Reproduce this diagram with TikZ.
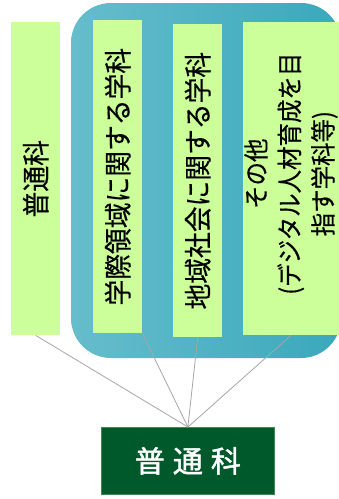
\documentclass[tikz,border=0pt]{standalone}
\usepackage{fontspec}
\newfontfamily\jp[FakeBold=0.4]{Noto Sans CJK JP}
\newfontfamily\jpb[FakeBold=1.5]{Noto Sans CJK JP}
\definecolor{lgreen}{HTML}{CCFF99}
\definecolor{dgreen}{HTML}{00592A}
\definecolor{dgedge}{HTML}{3C8A50}
\definecolor{blueL}{HTML}{66BDCC}
\definecolor{blueM}{HTML}{4BB8CA}
\definecolor{blueR}{HTML}{3AA8BC}
\definecolor{conncol}{HTML}{A6A6A6}
\begin{document}
\begin{tikzpicture}[x=1pt,y=-1pt,
  greenbox/.style={draw=none, fill=lgreen, inner sep=0pt, anchor=north west},
  vtext/.style={rotate=90, xscale=0.92, inner sep=0pt, text=black, font=\jp\fontsize{28}{30}\selectfont},
  vtextsmall/.style={rotate=90, xscale=0.92, inner sep=0pt, text=black, align=center, font=\jp\fontsize{25.5}{33.5}\selectfont},
  darkbox/.style={draw=dgedge, line width=0.8pt, fill=dgreen, inner sep=0pt, anchor=north west, text=white},
  conn/.style={draw=conncol, line width=0.8pt}]
\useasboundingbox (0,0) rectangle (339,499);
\clip (0,0) rectangle (339,499);
% blue background panel
\shade[left color=blueL, middle color=blueM, right color=blueR, rounded corners=40pt]
  (71,3) rectangle (341,358);
% light green boxes
\node[greenbox, minimum width=49pt, minimum height=313pt] (b1) at (11,22) {};
\node[greenbox, minimum width=49pt, minimum height=313pt] (b2) at (93,20) {};
\node[greenbox, minimum width=49pt, minimum height=313pt] (b3) at (173,24) {};
\node[greenbox, minimum width=95.5pt, minimum height=313pt] (b4) at (243,22) {};
\node[vtext] (t1) at (b1.center) {普通科};
\node[vtext] (t2) at (b2.center) {学際領域に関する学科};
\node[vtext] (t3) at (b3.center) {地域社会に関する学科};
\node[vtextsmall] (t4) at ([yshift=5pt]b4.center) {その他\\(デジタル人材育成を目\\指す学科等)};
% dark green box
\node[darkbox, minimum width=173pt, minimum height=67pt] (g) at (101,427) {};
\node[text=white, inner sep=0pt, font=\jpb\fontsize{30}{30}\selectfont] (gt) at (g.center) {普\hspace{8pt}通\hspace{8pt}科};
% connectors
\draw[conn] (b1.south) -- (g.north);
\draw[conn] (b2.south east) -- (g.north);
\draw[conn] (b3.south) -- (g.north);
\draw[conn] (b4.south) -- (g.north);
\end{tikzpicture}
\end{document}
